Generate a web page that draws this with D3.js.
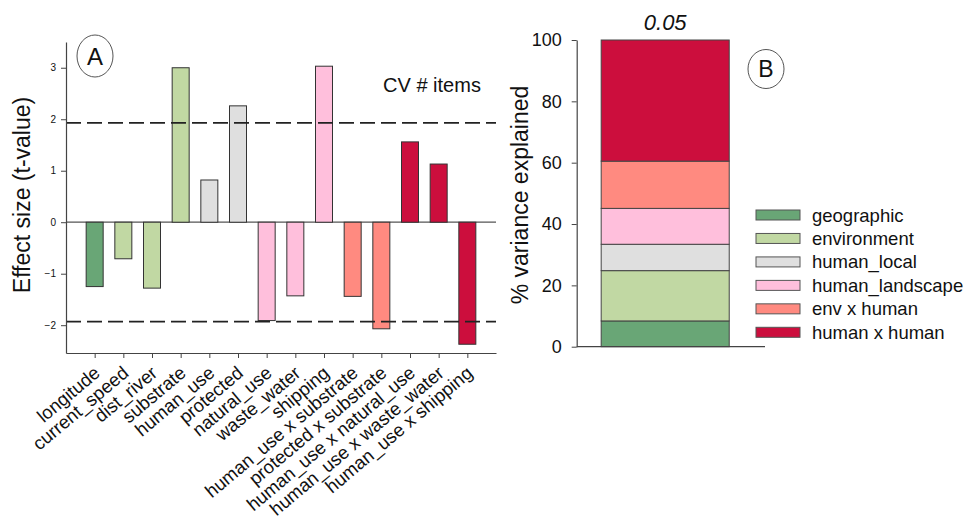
<!DOCTYPE html>
<html>
<head>
<meta charset="utf-8">
<script src="https://cdn.jsdelivr.net/npm/d3@7"></script>
<style>
  body { margin: 0; background: #fff; }
  svg { display: block; font-family: "Liberation Sans", Arial, sans-serif; }
</style>
</head>
<body>
<svg id="chart" width="969" height="521"></svg>
<script>
// ---------- Data ----------
const variables = ["longitude", "current_speed", "dist_river", "substrate", "human_use", "protected",
  "natural_use", "waste_water", "shipping", "human_use x substrate", "protected x substrate",
  "human_use x natural_use", "human_use x waste_water", "human_use x shipping"];
const tValues = [-1.25, -0.71, -1.28, 3.0, 0.82, 2.26, -1.91, -1.43, 3.03, -1.44, -2.07, 1.56, 1.13, -2.37];
const varGroups = ["geographic", "environment", "environment", "environment", "human_local", "human_local",
  "human_landscape", "human_landscape", "human_landscape", "env x human", "env x human",
  "human x human", "human x human", "human x human"];
const tTicks = [-2, -1, 0, 1, 2, 3];
const tCritical = [1.93, -1.93];

const groups = ["geographic", "environment", "human_local", "human_landscape", "env x human", "human x human"];
const groupColors = ["#69a676", "#c1d8a3", "#dfdfdf", "#ffbfdc", "#ff8a80", "#cc0e3d"];
const varianceExplained = [8.4, 16.4, 8.6, 11.7, 15.4, 39.5];
const varianceTicks = [0, 20, 40, 60, 80, 100];
const pLabel = "0.05";

// ---------- Setup ----------
const svg = d3.select("#chart");
const color = d3.scaleOrdinal().domain(groups).range(groupColors);
const axisColor = "#444";
const FONT = "Liberation Sans, Arial, sans-serif";

// ---------- Panel A ----------
const xA = d3.scaleLinear().domain([0, 15]).range([66, 496]);
const yA = d3.scaleLinear().domain([-2.54, 3.5]).range([353, 42]);
const gA = svg.append("g");

// zero line
gA.append("line")
  .attr("x1", xA(0)).attr("x2", xA(15))
  .attr("y1", yA(0)).attr("y2", yA(0))
  .attr("stroke", "#555").attr("stroke-width", 1.2);

// bars
const barW = 17;
gA.selectAll("rect.bar").data(tValues).join("rect")
  .attr("class", "bar")
  .attr("x", (d, i) => xA(i + 1) - barW / 2)
  .attr("width", barW)
  .attr("y", d => yA(Math.max(0, d)))
  .attr("height", d => Math.abs(yA(d) - yA(0)))
  .attr("fill", (d, i) => color(varGroups[i]))
  .attr("stroke", "#333").attr("stroke-width", 1);

// dashed critical lines
gA.selectAll("line.crit").data(tCritical).join("line")
  .attr("class", "crit")
  .attr("x1", xA(0)).attr("x2", xA(15))
  .attr("y1", d => yA(d)).attr("y2", d => yA(d))
  .attr("stroke", "#222").attr("stroke-width", 1.6)
  .attr("stroke-dasharray", "15,6");

// y axis
const yAxisA = gA.append("g").attr("transform", `translate(${xA(0)},0)`)
  .call(d3.axisLeft(yA).tickValues(tTicks).tickFormat(d3.format("d"))
    .tickSize(5).tickSizeOuter(0).tickPadding(5));
yAxisA.attr("font-family", FONT);
yAxisA.select(".domain").attr("stroke", axisColor).attr("stroke-width", 1.2);
yAxisA.selectAll(".tick line").attr("stroke", axisColor);
yAxisA.selectAll(".tick text").attr("font-size", 10).attr("fill", "#111");

// x axis
const xAxisA = gA.append("g").attr("transform", `translate(0,${yA.range()[0]})`)
  .call(d3.axisBottom(xA).tickValues(d3.range(1, 15)).tickSize(5).tickSizeOuter(0)
    .tickFormat(i => variables[i - 1]));
xAxisA.attr("font-family", FONT);
xAxisA.select(".domain").attr("stroke", axisColor).attr("stroke-width", 1.2);
xAxisA.selectAll(".tick line").attr("stroke", axisColor);
xAxisA.selectAll(".tick text")
  .attr("font-size", 18.5).attr("fill", "#111")
  .attr("text-anchor", "end")
  .attr("y", 0).attr("dy", 0)
  .attr("transform", "translate(6,22) rotate(-40)");

// y label
gA.append("text")
  .attr("transform", "translate(30,195) rotate(-90)")
  .attr("text-anchor", "middle")
  .attr("font-size", 23).attr("fill", "#111")
  .text("Effect size (t-value)");

// panel label A
gA.append("ellipse").attr("cx", 95).attr("cy", 56).attr("rx", 18).attr("ry", 21)
  .attr("fill", "none").attr("stroke", "#555").attr("stroke-width", 1);
gA.append("text").attr("x", 95).attr("y", 65).attr("text-anchor", "middle")
  .attr("font-size", 24).attr("fill", "#111").text("A");

gA.append("text").attr("x", 432).attr("y", 92).attr("text-anchor", "middle")
  .attr("font-size", 20).attr("fill", "#111").text("CV # items");

// ---------- Panel B ----------
const yB = d3.scaleLinear().domain([0, 100]).range([346.7, 40]);
const xB = d3.scaleLinear().domain([0, 1]).range([576.7, 765]);
const gB = svg.append("g");

const stacked = [];
let acc = 0;
varianceExplained.forEach((v, i) => { stacked.push({ g: groups[i], y0: acc, y1: acc + v }); acc += v; });

gB.selectAll("rect.seg").data(stacked).join("rect")
  .attr("class", "seg")
  .attr("x", xB(0.13)).attr("width", xB(0.81) - xB(0.13))
  .attr("y", d => yB(d.y1)).attr("height", d => yB(d.y0) - yB(d.y1))
  .attr("fill", d => color(d.g))
  .attr("stroke", "#444").attr("stroke-width", 1);

const yAxisB = gB.append("g").attr("transform", `translate(${xB(0)},0)`)
  .call(d3.axisLeft(yB).tickValues(varianceTicks).tickSize(5).tickSizeOuter(0).tickPadding(10));
yAxisB.attr("font-family", FONT);
yAxisB.select(".domain").attr("stroke", axisColor).attr("stroke-width", 1.2);
yAxisB.selectAll(".tick line").attr("stroke", axisColor);
yAxisB.selectAll(".tick text").attr("font-size", 18).attr("fill", "#111");

gB.append("line").attr("x1", xB(0)).attr("x2", xB(1))
  .attr("y1", yB(0)).attr("y2", yB(0))
  .attr("stroke", axisColor).attr("stroke-width", 1.2);

gB.append("text")
  .attr("transform", "translate(528,195) rotate(-90)")
  .attr("text-anchor", "middle")
  .attr("font-size", 23).attr("fill", "#111")
  .text("% variance explained");

gB.append("text").attr("x", xB(0.47)).attr("y", 30).attr("text-anchor", "middle")
  .attr("font-size", 22).attr("font-style", "italic").attr("fill", "#111").text(pLabel);

gB.append("ellipse").attr("cx", 766).attr("cy", 69).attr("rx", 18).attr("ry", 19.5)
  .attr("fill", "none").attr("stroke", "#555").attr("stroke-width", 1);
gB.append("text").attr("x", 766).attr("y", 77).attr("text-anchor", "middle")
  .attr("font-size", 23).attr("fill", "#111").text("B");

// legend
const leg = gB.append("g");
const legY = d3.scaleLinear().domain([0, 5]).range([215, 332.3]);
groups.forEach((g, i) => {
  leg.append("rect").attr("x", 756).attr("y", legY(i) - 5).attr("width", 44).attr("height", 10)
    .attr("fill", color(g)).attr("stroke", "#555").attr("stroke-width", 1);
  leg.append("text").attr("x", 812).attr("y", legY(i) + 6.5)
    .attr("font-size", 18.5).attr("fill", "#111").text(g);
});
</script>
</body>
</html>
